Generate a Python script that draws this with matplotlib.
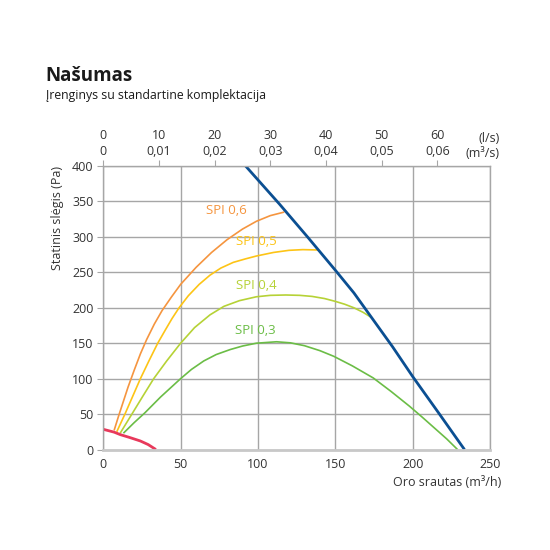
import matplotlib
matplotlib.use('Agg')
import matplotlib.pyplot as plt
import numpy as np

plt.rcParams['font.family'] = ['Open Sans', 'DejaVu Sans']

# data (flow m3/h, static pressure Pa)
max_x = [92, 103, 114, 132, 150, 162, 173.5, 187, 200, 217, 233.5]
max_y = [400, 373, 346, 300, 253, 221, 186, 145, 103, 51, 0]

min_x = [0, 7, 11, 17, 24, 29, 34]
min_y = [28.5, 24.5, 21, 17, 12, 7, 0]

spi06_x = [7, 10, 13, 16, 20, 24, 28, 33, 38, 44, 50, 60, 70, 80, 90, 99, 108, 117]
spi06_y = [27, 48, 68, 88, 112, 135, 155, 177, 196, 215, 233, 257, 278, 296, 311, 322, 330, 335]

spi05_x = [8.7, 14, 19, 24, 29.5, 35.2, 40.2, 44.5, 49, 55, 62, 69, 76, 84, 92, 99, 110, 120, 129, 139]
spi05_y = [25, 50, 75, 100, 125, 150, 169, 185, 200, 217, 233, 246, 256, 264, 269, 273, 278, 281, 282, 281.5]

spi04_x = [10.9, 18.5, 25.5, 32.6, 41, 50, 59, 69, 78, 88, 99, 108, 118, 127, 135, 143, 150, 156, 162, 168, 173.5]
spi04_y = [23, 50, 75, 100, 125, 150, 172, 190, 202, 210, 215.5, 217.5, 218, 217.5, 216, 213, 209, 205, 200, 193.5, 186]

spi03_x = [13, 20, 27, 37, 50, 57, 65, 73, 82, 90, 99, 112, 121, 130, 140, 149, 161, 174.5, 186, 198, 206, 214, 222, 229]
spi03_y = [23, 38, 52, 74, 100, 113, 125, 134, 141, 146, 150, 152, 150.5, 146.5, 139.5, 131.5, 118, 101, 82, 61, 46, 30.5, 15, 0]

ls_ticks = [0, 10, 20, 30, 40, 50, 60]
m3s_labels = ['0', '0,01', '0,02', '0,03', '0,04', '0,05', '0,06']

curves = [
    (spi06_x, spi06_y, '#f5953f', 'SPI 0,6', 66.5, 337),
    (spi05_x, spi05_y, '#fdc416', 'SPI 0,5', 86, 293),
    (spi04_x, spi04_y, '#b6d236', 'SPI 0,4', 86, 232),
    (spi03_x, spi03_y, '#6bbd46', 'SPI 0,3', 85, 168),
]

fig = plt.figure(figsize=(5.5, 5.5), dpi=100)
ax = fig.add_axes([0.1878, 0.1827, 0.7031, 0.5155])

grid_c = '#a6a6a6'
ax.set_xlim(0, 250)
ax.set_ylim(0, 400)
ax.set_xticks([0, 50, 100, 150, 200, 250])
ax.set_yticks(np.arange(0, 401, 50))
ax.grid(True, color=grid_c, linewidth=1.0)
ax.set_axisbelow(True)
for s in ['top', 'right', 'left']:
    ax.spines[s].set_color(grid_c)
    ax.spines[s].set_linewidth(1.0)
ax.spines['bottom'].set_color('#c8c8c8')
ax.spines['bottom'].set_linewidth(2.0)
ax.tick_params(axis='x', length=0, pad=6, labelsize=9, labelcolor='#333333')
ax.tick_params(axis='y', length=4, color=grid_c, pad=3, labelsize=9,
               labelcolor='#333333')

for x, y, c, lab, tx, ty in curves:
    ax.plot(x, y, color=c, linewidth=1.2, solid_capstyle='butt',
            solid_joinstyle='round')
    ax.text(tx, ty, lab, color=c, fontsize=9.5, ha='left', va='center')

ax.plot(min_x, min_y, color='#e8395b', linewidth=2.0, solid_capstyle='butt')
ax.plot(max_x, max_y, color='#0b4f92', linewidth=2.0, solid_capstyle='butt')

# top axis: l/s and m3/s
top = ax.twiny()
top.set_xlim(ax.get_xlim())
top.set_xticks([v * 3.6 for v in ls_ticks])
top.set_xticklabels([f'{a}\n{b}' for a, b in zip(ls_ticks, m3s_labels)],
                    fontsize=9, color='#333333', linespacing=1.25)
top.tick_params(axis='x', length=4, color=grid_c, pad=2)
for s in top.spines.values():
    s.set_visible(False)
top.text(256, 1.02, '(l/s)\n(m³/s)', transform=top.get_xaxis_transform(),
         ha='right', va='bottom', multialignment='right', fontsize=9,
         color='#333333', linespacing=1.25)

ax.set_ylabel('Statinis slėgis (Pa)', fontsize=9, color='#333333', loc='top',
              labelpad=6)
ax.text(1.03, -0.115, 'Oro srautas (m³/h)', transform=ax.transAxes, ha='right',
        va='center', fontsize=9, color='#333333')

fig.text(0.083, 0.862, 'Našumas', fontsize=13.5, fontweight='bold',
         color='#1a1a1a', ha='left', va='center')
fig.text(0.083, 0.826, 'Įrenginys su standartine komplektacija', fontsize=8.8,
         color='#1a1a1a', ha='left', va='center')

fig.savefig('out.png', dpi=100)
